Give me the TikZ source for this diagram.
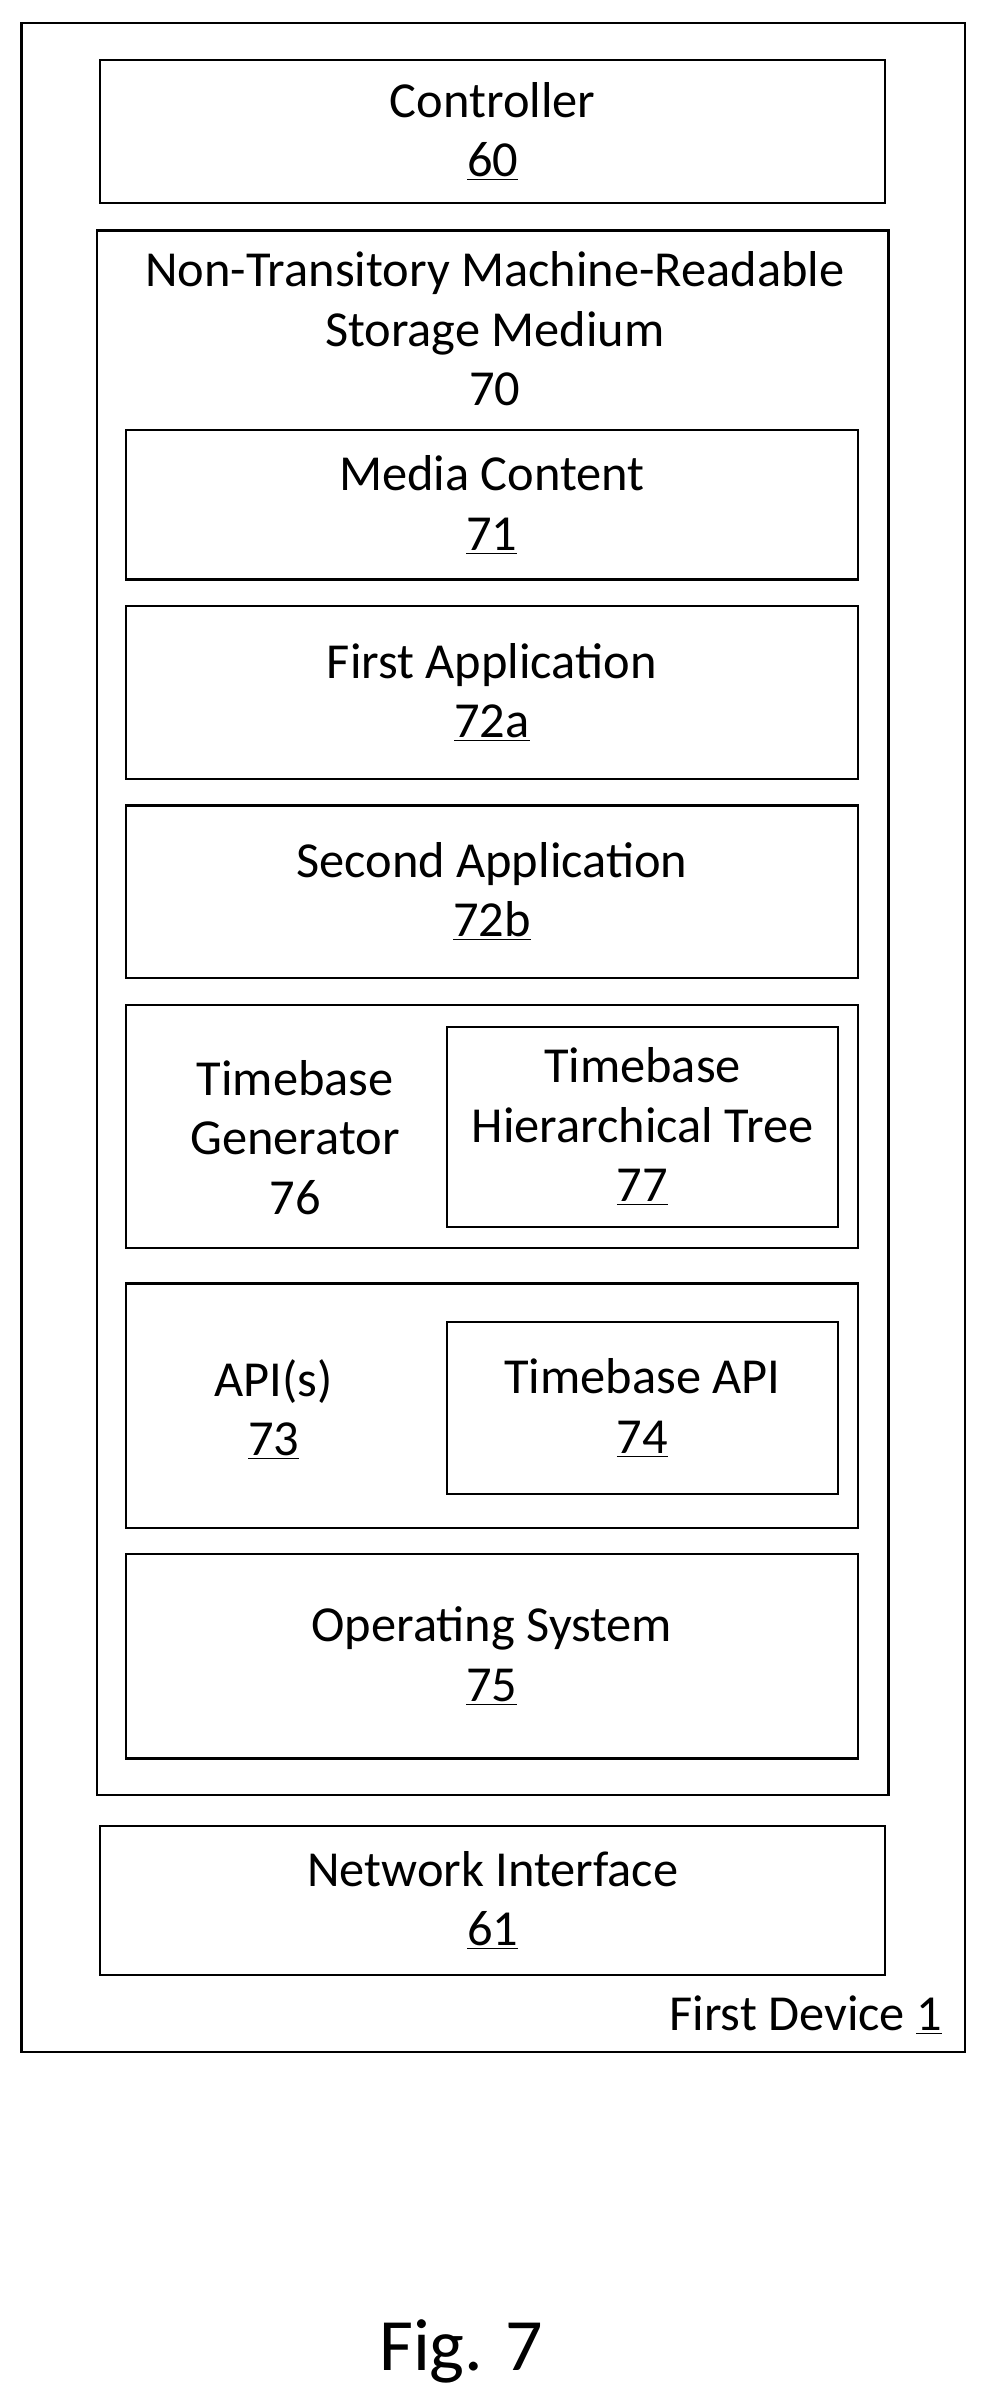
\documentclass[tikz,border=0pt]{standalone}
\usepackage{fontspec}
\setmainfont{Carlito}
\usetikzlibrary{positioning}
\tikzset{
  box/.style={draw, line width=1.2pt, align=center, inner sep=0pt, font=\fontsize{28}{33}\selectfont},
  lbl/.style={align=center, font=\fontsize{28}{33}\selectfont}
}
\begin{document}
\begin{tikzpicture}[x=0.03cm, y=-0.03cm]
            \useasboundingbox (0,0) rectangle (640,1564);
            \node[box, minimum width=18.42cm, minimum height=39.6cm] (Dev) at (321,675) {};
            \node[box, minimum width=15.33cm, minimum height=2.79cm] (Ctrl) at (320.5,85.5) {Controller\\\underline{60}};
            \node[box, minimum width=15.45cm, minimum height=30.54cm] (Store) at (320.5,659) {};
            \node[lbl] (StoreLbl) at (322,214) {Non-Transitory Machine-Readable\\Storage Medium\\70};
            \node[box, minimum width=14.28cm, minimum height=2.91cm] (Media) at (320,328.5) {Media Content\\\underline{71}};
            \node[box, minimum width=14.28cm, minimum height=3.39cm] (App1) at (320,450.5) {First Application\\\underline{72a}};
            \node[box, minimum width=14.28cm, minimum height=3.36cm] (App2) at (320,580) {Second Application\\\underline{72b}};
            \node[box, minimum width=14.28cm, minimum height=4.74cm] (Gen) at (320,733) {};
            \node[lbl] (GenLbl) at (192,740) {Timebase\\Generator\\76};
            \node[box, minimum width=7.62cm, minimum height=3.9cm] (Tree) at (418,733) {Timebase\\Hierarchical Tree\\\underline{77}};
            \node[box, minimum width=14.28cm, minimum height=4.77cm] (Apis) at (320,914.5) {};
            \node[lbl] (ApisLbl) at (178,917) {API(s)\\\underline{73}};
            \node[box, minimum width=7.62cm, minimum height=3.36cm] (TbApi) at (418,916) {Timebase API\\\underline{74}};
            \node[box, minimum width=14.28cm, minimum height=3.99cm] (OS) at (320,1077.5) {Operating System\\\underline{75}};
            \node[box, minimum width=15.33cm, minimum height=2.91cm] (Net) at (320.5,1236.5) {Network Interface\\\underline{61}};
            \node[lbl, anchor=east] (DevLbl) at (617,1311) {First Device \underline{1}};
            \node[lbl, font=\fontsize{41}{48}\selectfont] (Fig) at (300,1530) {Fig. 7};
        \end{tikzpicture}
\end{document}
